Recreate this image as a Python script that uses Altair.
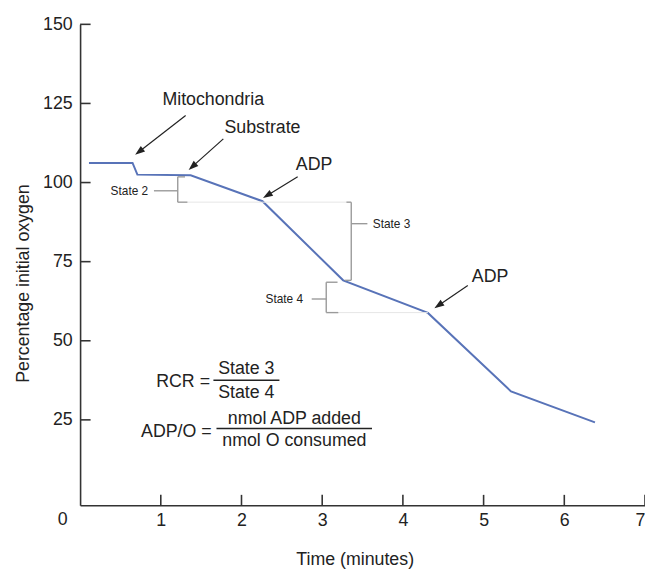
import math
import altair as alt
import pandas as pd

# ---- data ----
time_min = [0.11, 0.65, 0.71, 1.37, 2.26, 3.26, 4.31, 5.34, 6.38]
oxygen_pct = [106.2, 106.2, 102.5, 102.3, 94.1, 69.1, 58.8, 34.0, 24.2]

x_tick_values = [1, 2, 3, 4, 5, 6, 7]
y_tick_values = [25, 50, 75, 100, 125, 150]

arrow_labels = ["Mitochondria", "Substrate", "ADP", "ADP"]
arrow_label_x = [1.65, 2.26, 2.90, 5.08]
arrow_label_y = [126.2, 117.1, 105.6, 70.1]
arrow_start_x = [1.308, 1.775, 2.696, 4.804]
arrow_start_y = [121.2, 113.8, 101.8, 67.5]
arrow_tip_x = [0.682, 1.345, 2.266, 4.39]
arrow_tip_y = [108.8, 104.0, 95.1, 60.3]

state_labels = ["State 2", "State 3", "State 4"]
state_label_x = [0.88, 3.59, 2.80]
state_label_y = [97.4, 87.0, 63.2]
state_label_align = ["right", "left", "right"]

# bracket segments: x, x2, y, y2
bracket_x = [1.21, 1.21, 1.21, 0.915, 3.36, 3.30, 3.28, 3.36, 3.05, 3.05, 3.05, 2.87]
bracket_x2 = [1.21, 1.30, 1.33, 1.21, 3.36, 3.36, 3.36, 3.56, 3.05, 3.19, 3.20, 3.05]
bracket_y = [101.8, 101.8, 93.8, 97.4, 93.8, 93.8, 69.1, 87.0, 68.5, 68.5, 58.9, 63.2]
bracket_y2 = [93.8, 101.8, 93.8, 97.4, 69.1, 93.8, 69.1, 87.0, 58.9, 68.5, 58.9, 63.2]

faint_x = [1.33, 3.20]
faint_x2 = [3.30, 4.31]
faint_y = [93.8, 58.9]

formula_left = ["RCR =", "ADP/O ="]
formula_left_x = [1.61, 1.63]
formula_left_y = [36.9, 21.3]
formula_parts = ["State 3", "State 4", "nmol ADP added", "nmol O consumed"]
formula_part_x = [2.06, 2.06, 2.655, 2.655]
formula_part_y = [41.0, 33.5, 25.4, 18.2]
frac_bar_x = [1.652, 1.69]
frac_bar_x2 = [2.47, 3.617]
frac_bar_y = [37.5, 22.3]

# ---- layout helpers ----
W, H = 572, 487
X_DOM = [0, 7]
Y_DOM = [-2, 150]
PX_X = W / (X_DOM[1] - X_DOM[0])
PX_Y = H / (Y_DOM[1] - Y_DOM[0])
FONT = "Liberation Sans"
TXT = "#222222"

xs = alt.Scale(domain=X_DOM, nice=False, zero=False)
ys = alt.Scale(domain=Y_DOM, nice=False, zero=False)

xax = alt.Axis(
    values=x_tick_values, tickSize=0, grid=False, labelFlush=True,
    domainColor="#333333", domainWidth=1.6, labelFontSize=18, labelFont=FONT,
    labelColor=TXT, labelPadding=15, labelBaseline="middle", titleFontSize=18,
    titleFont=FONT, titleFontWeight="normal", titleColor=TXT,
    titleX=278, titleY=55, titleBaseline="middle")
yax = alt.Axis(
    values=y_tick_values, tickSize=0, labelFlush=False,
    grid=False, domainColor="#333333", domainWidth=1.6, labelFontSize=18,
    labelFont=FONT, labelColor=TXT, labelPadding=8, titleFontSize=18,
    titleFont=FONT, titleFontWeight="normal", titleColor=TXT,
    titleX=-57, titleY=262, titleAngle=-90, titleAlign="center",
    titleBaseline="middle")
XT = "Time (minutes)"
YT = "Percentage initial oxygen"


def X(f):
    return alt.X(f, scale=xs, axis=xax, title=XT)


def Y(f):
    return alt.Y(f, scale=ys, axis=yax, title=YT)


line_df = pd.DataFrame({"t": time_min, "o": oxygen_pct})
line = alt.Chart(line_df).mark_line(color="#5873b8", strokeWidth=2).encode(
    x=X("t:Q"), y=Y("o:Q"))

# inward ticks
ytick_df = pd.DataFrame({"y": y_tick_values, "x": [0.0] * 6, "x2": [0.13] * 6})
yticks = alt.Chart(ytick_df).mark_rule(color="#333333", strokeWidth=1.6).encode(
    x=X("x:Q"), x2="x2:Q", y=Y("y:Q"))
xtick_df = pd.DataFrame({"x": x_tick_values, "y": [-2.0] * 7, "y2": [1.3] * 7})
xticks = alt.Chart(xtick_df).mark_rule(color="#333333", strokeWidth=1.6).encode(
    x=X("x:Q"), y=Y("y:Q"), y2="y2:Q")

origin_df = pd.DataFrame({"x": [-0.215], "y": [-6.8], "t": ["0"]})
origin = alt.Chart(origin_df).mark_text(
    fontSize=18, font=FONT, color=TXT, align="center", baseline="middle").encode(
    x=X("x:Q"), y=Y("y:Q"), text="t:N")

# brackets
br_df = pd.DataFrame({"x": bracket_x, "x2": bracket_x2, "y": bracket_y, "y2": bracket_y2})
brackets = alt.Chart(br_df).mark_rule(color="#9a9a9a", strokeWidth=1.4).encode(
    x=X("x:Q"), x2="x2:Q", y=Y("y:Q"), y2="y2:Q")
faint_df = pd.DataFrame({"x": faint_x, "x2": faint_x2, "y": faint_y})
faint = alt.Chart(faint_df).mark_rule(color="#e6e6e6", strokeWidth=1).encode(
    x=X("x:Q"), x2="x2:Q", y=Y("y:Q"))

# arrows
HEAD_R = 5.0  # px, distance from head centre to tip
rows = []
for xs0, ys0, xt, yt in zip(arrow_start_x, arrow_start_y, arrow_tip_x, arrow_tip_y):
    dxp = (xt - xs0) * PX_X
    dyp = -(yt - ys0) * PX_Y
    L = math.hypot(dxp, dyp)
    ang = math.degrees(math.atan2(dxp, -dyp)) % 360
    hx = xt - (dxp / L) * HEAD_R / PX_X
    hy = yt + (dyp / L) * HEAD_R / PX_Y
    rows.append({"x": xs0, "y": ys0, "hx": hx, "hy": hy, "ang": ang})
arr_df = pd.DataFrame(rows)
shafts = alt.Chart(arr_df).mark_rule(color="#222222", strokeWidth=1.2).encode(
    x=X("x:Q"), x2="hx:Q", y=Y("y:Q"), y2="hy:Q")
heads = alt.Chart(arr_df).mark_point(
    shape="M0,-1L-0.7,1L0.7,1Z", filled=True, color="#222222", opacity=1,
    size=100, strokeWidth=0).encode(
    x=X("hx:Q"), y=Y("hy:Q"), angle=alt.Angle("ang:Q", scale=None))

lab_df = pd.DataFrame({"x": arrow_label_x, "y": arrow_label_y, "t": arrow_labels})
arrow_text = alt.Chart(lab_df).mark_text(
    fontSize=18, font=FONT, color=TXT, align="center", baseline="middle").encode(
    x=X("x:Q"), y=Y("y:Q"), text="t:N")

st_df = pd.DataFrame({"x": state_label_x, "y": state_label_y, "t": state_labels,
                      "a": state_label_align})
state_r = alt.Chart(st_df).transform_filter("datum.a == 'right'").mark_text(
    fontSize=12, font=FONT, color=TXT, align="right", baseline="middle", dx=-3).encode(
    x=X("x:Q"), y=Y("y:Q"), text="t:N")
state_l = alt.Chart(st_df).transform_filter("datum.a == 'left'").mark_text(
    fontSize=12, font=FONT, color=TXT, align="left", baseline="middle", dx=3).encode(
    x=X("x:Q"), y=Y("y:Q"), text="t:N")

fl_df = pd.DataFrame({"x": formula_left_x, "y": formula_left_y, "t": formula_left})
f_left = alt.Chart(fl_df).mark_text(
    fontSize=18, font=FONT, color=TXT, align="right", baseline="middle").encode(
    x=X("x:Q"), y=Y("y:Q"), text="t:N")
fp_df = pd.DataFrame({"x": formula_part_x, "y": formula_part_y, "t": formula_parts})
f_parts = alt.Chart(fp_df).mark_text(
    fontSize=18, font=FONT, color=TXT, align="center", baseline="middle").encode(
    x=X("x:Q"), y=Y("y:Q"), text="t:N")
fb_df = pd.DataFrame({"x": frac_bar_x, "x2": frac_bar_x2, "y": frac_bar_y})
f_bars = alt.Chart(fb_df).mark_rule(color="#222222", strokeWidth=1.5).encode(
    x=X("x:Q"), x2="x2:Q", y=Y("y:Q"))

chart = alt.layer(
    line, faint, brackets, yticks, xticks, origin, shafts, heads, arrow_text,
    state_r, state_l, f_left, f_parts, f_bars
).properties(
    width=W, height=H,
    autosize=alt.AutoSizeParams(type="none"),
    padding={"left": 73, "top": 13, "right": 0, "bottom": 65},
    background="white",
).configure_view(stroke=None)

chart.save("out.html", embed_options={"renderer": "svg", "actions": False})
